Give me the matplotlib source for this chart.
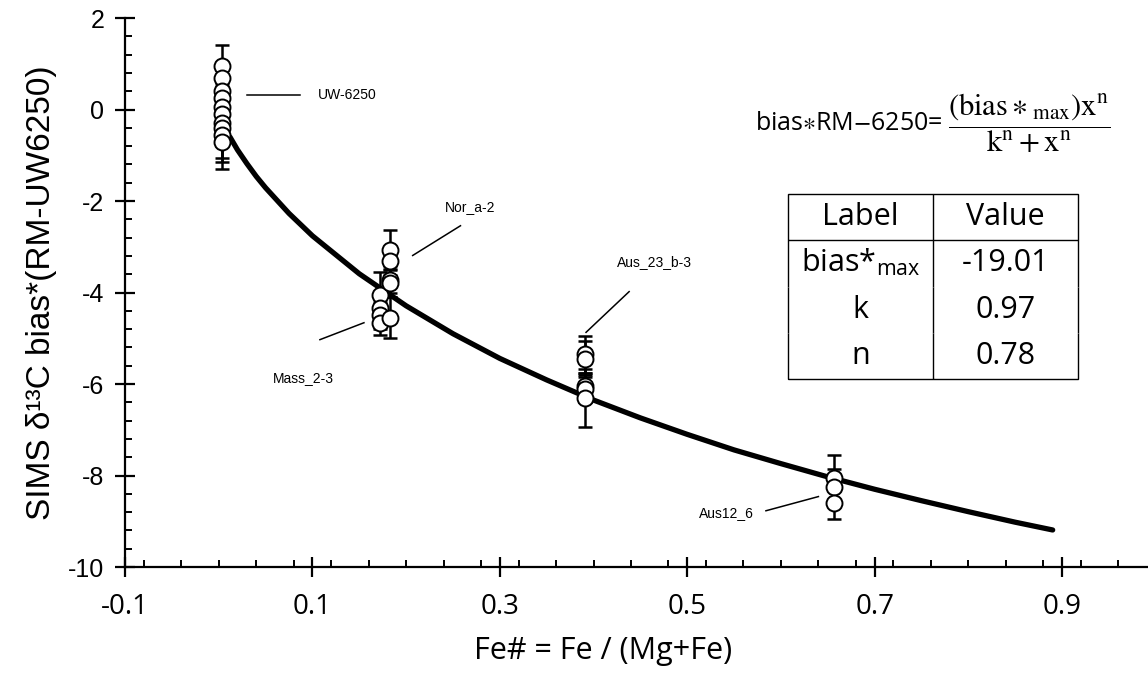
import matplotlib.pyplot as plt
from matplotlib.ticker import MultipleLocator, FixedLocator

plt.rcParams['axes.unicode_minus'] = False
plt.rcParams['mathtext.fontset'] = 'custom'
plt.rcParams['mathtext.rm'] = 'STIXGeneral'
plt.rcParams['mathtext.it'] = 'STIXGeneral:italic'
plt.rcParams['mathtext.sf'] = 'Open Sans'

# measured points (Fe#, bias*, 1 sd)
uw_x = [0.003] * 10
uw_y = [0.95, 0.7, 0.4, 0.25, 0.05, -0.1, -0.3, -0.4, -0.55, -0.7]
uw_err = [0.45, 0.3, 0.3, 0.3, 0.3, 0.3, 0.3, 0.65, 0.6, 0.6]

mass_x = [0.172] * 4
mass_y = [-4.05, -4.33, -4.5, -4.66]
mass_err = [0.5, 0.3, 0.3, 0.26]

nor_x = [0.183] * 5
nor_y = [-3.06, -3.32, -3.72, -3.8, -4.55]
nor_err = [0.42, 0.3, 0.3, 0.3, 0.45]

aus23_x = [0.391] * 5
aus23_y = [-5.35, -5.45, -6.05, -6.1, -6.3]
aus23_err = [0.4, 0.4, 0.3, 0.3, 0.63]

aus12_x = [0.657] * 3
aus12_y = [-8.05, -8.25, -8.6]
aus12_err = [0.5, 0.4, 0.35]

# fitted curve
fit_x = [0.012, 0.02, 0.03, 0.04, 0.05, 0.075, 0.1, 0.15, 0.2, 0.25, 0.3, 0.35,
         0.4, 0.45, 0.5, 0.55, 0.6, 0.65, 0.7, 0.75, 0.8, 0.85, 0.89]
fit_y = [-0.60, -0.88, -1.18, -1.46, -1.71, -2.27, -2.76, -3.59, -4.29, -4.90,
         -5.44, -5.91, -6.35, -6.74, -7.10, -7.44, -7.74, -8.03, -8.30, -8.55,
         -8.79, -9.02, -9.19]

# annotation labels: text, text position, leader line start/end
labels = ['UW-6250', 'Nor_a-2', 'Mass_2-3', 'Aus_23_b-3', 'Aus12_6']
label_pos = [(0.106, 0.31), (0.241, -2.14), (0.058, -5.86), (0.425, -3.34), (0.512, -8.83)]
leader_start = [(0.030, 0.31), (0.207, -3.19), (0.108, -5.03), (0.392, -4.87), (0.584, -8.77)]
leader_end = [(0.087, 0.31), (0.258, -2.54), (0.155, -4.66), (0.438, -3.98), (0.640, -8.46)]

table_rows = [['Label', 'Value'], ['bias*$_{\\mathsf{max}}$', '-19.01'], ['k', '0.97'], ['n', '0.78']]

fig = plt.figure(figsize=(11.48, 6.76), dpi=100)
ax = fig.add_axes([0.1089, 0.1612, 0.8905, 0.8121])

groups = [(uw_x, uw_y, uw_err), (mass_x, mass_y, mass_err), (nor_x, nor_y, nor_err),
          (aus23_x, aus23_y, aus23_err), (aus12_x, aus12_y, aus12_err)]
for gx, gy, ge in groups:
    ax.errorbar(gx, gy, yerr=ge, fmt='none', ecolor='black', elinewidth=1.8,
                capsize=5, capthick=1.8, zorder=2)

ax.plot(fit_x, fit_y, color='black', lw=3.8, solid_capstyle='round', zorder=3)

for gx, gy, ge in groups:
    ax.plot(gx, gy, 'o', ms=11.5, mfc='white', mec='black', mew=1.4, zorder=4)

for txt, tp, s, e in zip(labels, label_pos, leader_start, leader_end):
    ax.plot([s[0], e[0]], [s[1], e[1]], color='black', lw=1.1, zorder=1)
    ax.text(tp[0], tp[1], txt, fontsize=10, family='Liberation Sans', va='center', ha='left')

ax.set_xlim(-0.1, 0.991)
ax.set_ylim(-10, 2)
ax.xaxis.set_major_locator(FixedLocator([-0.1, 0.1, 0.3, 0.5, 0.7, 0.9]))
ax.xaxis.set_minor_locator(MultipleLocator(0.04))
ax.yaxis.set_major_locator(MultipleLocator(2))
ax.yaxis.set_minor_locator(MultipleLocator(0.4))
ax.set_xticklabels(['-0.1', '0.1', '0.3', '0.5', '0.7', '0.9'], family='Open Sans', fontsize=20)
for t in ax.get_yticklabels():
    t.set_family('Liberation Sans')
    t.set_fontsize(18)
ax.tick_params(which='major', direction='inout', length=14, width=1.6)
ax.tick_params(which='minor', direction='in', length=5, width=1.4)
ax.tick_params(axis='x', pad=12)
ax.tick_params(axis='y', pad=8)
for side in ['top', 'right']:
    ax.spines[side].set_visible(False)
for side in ['left', 'bottom']:
    ax.spines[side].set_linewidth(1.6)

ax.set_xlabel('Fe# = Fe / (Mg+Fe)', family='Open Sans', fontsize=22, labelpad=12)
ax.xaxis.set_label_coords(0.468, -0.125)
ax.set_ylabel('SIMS δ¹³C bias*(RM-UW6250)', family='Liberation Sans', fontsize=24, labelpad=8)

fig.text(0.658, 0.818, r'bias$\ast$RM$-$6250=', family='Open Sans', fontsize=18, va='center')
fig.text(0.826, 0.818,
         r'$\dfrac{(\mathrm{bias}\ast_{\mathrm{max}})\mathrm{x}^{\mathrm{n}}}{\mathrm{k}^{\mathrm{n}}+\mathrm{x}^{\mathrm{n}}}$',
         fontsize=22, va='center', ha='left')

tab = ax.table(cellText=table_rows, cellLoc='center',
               bbox=[(788 - 125) / 1022.5, (676 - 379 - 109) / 549.0,
                     (1078 - 788) / 1022.5, (379 - 194) / 549.0])
tab.auto_set_font_size(False)
for (r, c), cell in tab.get_celld().items():
    cell.set_linewidth(1.0)
    cell.get_text().set_fontsize(22)
    cell.get_text().set_family('Open Sans')
    if r == 0:
        vis = 'TBL' if c == 0 else 'TBLR'
    elif r == 3:
        vis = 'BL' if c == 0 else 'BLR'
    else:
        vis = 'L' if c == 0 else 'LR'
    cell.visible_edges = vis

fig.savefig('out.png', dpi=100)
